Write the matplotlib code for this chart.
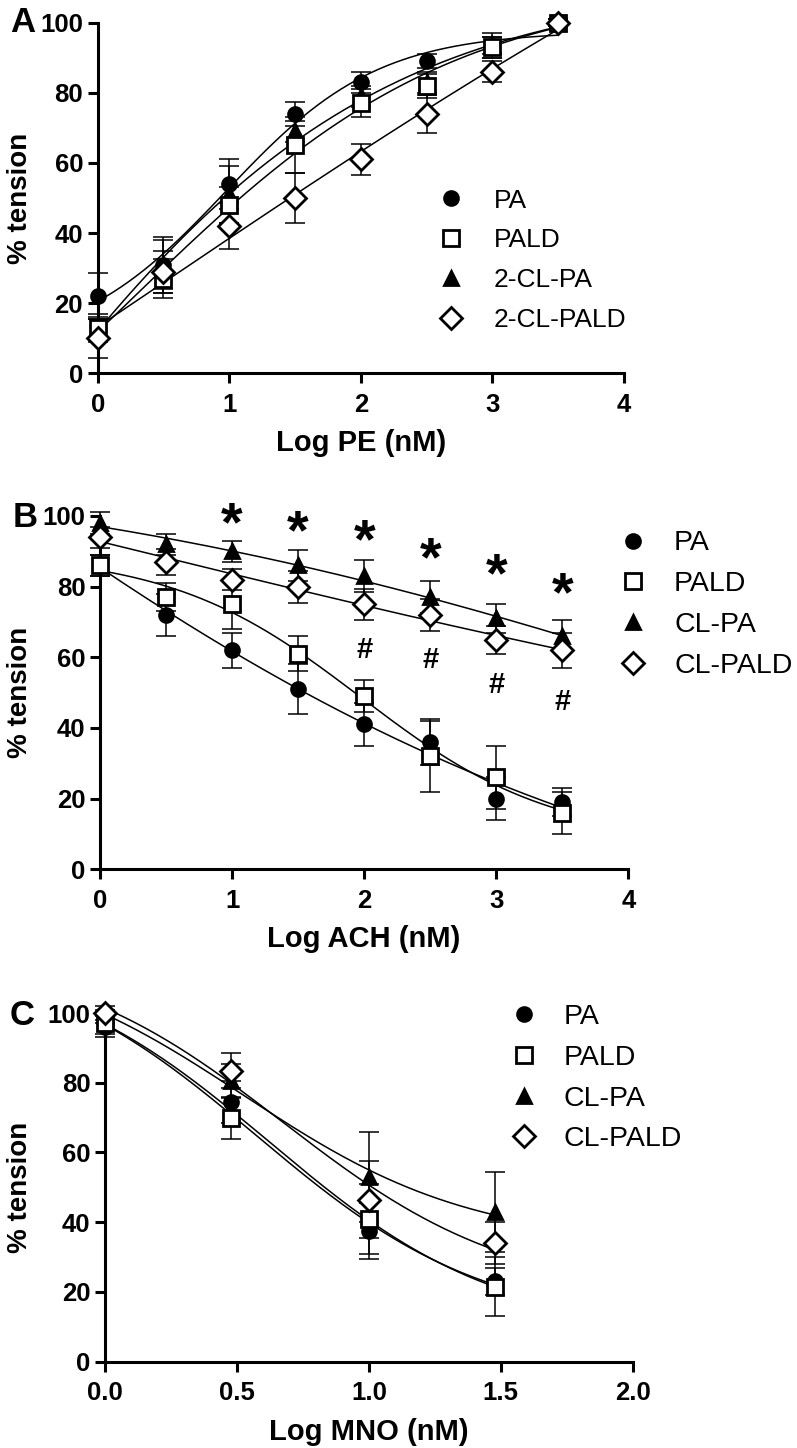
import numpy as np
import matplotlib
matplotlib.use("Agg")
import matplotlib.pyplot as plt

plt.rcParams['font.family'] = ['Liberation Sans', 'DejaVu Sans']

# ---------------- data ----------------
# Panel A: Log PE (nM)
a_x = [0, 0.5, 1, 1.5, 2, 2.5, 3, 3.5]
a_pa = [22, 31, 54, 74, 83, 89, 93, 100]
a_pa_err = [6.5, 7, 7, 3.5, 3, 2, 3, 1]
a_pald = [13, 27, 48, 65, 77, 82, 93, 100]
a_pald_err = [3, 5.5, 5, 8, 4, 3.5, 3, 1]
a_clpa = [13, 31, 51, 69, 79, 83, 94, 100]
a_clpa_err = [4, 8, 8, 3, 3, 3, 3, 1]
a_clpald = [10, 29, 42, 50, 61, 74, 86, 100]
a_clpald_err = [5.5, 6, 6.5, 7, 4.3, 5.5, 3, 1]
a_labels = ["PA", "PALD", "2-CL-PA", "2-CL-PALD"]

# Panel B: Log ACH (nM)
b_x = [0, 0.5, 1, 1.5, 2, 2.5, 3, 3.5]
b_pa = [86, 72, 62, 51, 41, 36, 20, 19]
b_pa_err = [3, 6, 5, 7, 6, 6.5, 6, 4]
b_pald = [86, 77, 75, 61, 49, 32, 26, 16]
b_pald_err = [3, 4, 7, 5, 4.5, 10, 9, 6]
b_clpa = [98, 92, 90, 86, 83, 77, 71, 66]
b_clpa_err = [3, 3, 3, 4.5, 4.5, 4.5, 4, 4.5]
b_clpald = [94, 87, 82, 80, 75, 72, 65, 62]
b_clpald_err = [3, 3.8, 3, 4.5, 4.3, 4.6, 4, 5]
b_labels = ["PA", "PALD", "CL-PA", "CL-PALD"]
b_star_x = [1, 1.5, 2, 2.5, 3, 3.5]
b_star_y = [97.0, 94.7, 92.3, 87.1, 82.8, 77.2]
b_hash_x = [2, 2.5, 3, 3.5]
b_hash_y = [62.0, 59.1, 52.2, 47.3]

# Panel C: Log MNO (nM)
c_x = [0, 0.477, 1, 1.477]
c_pa = [96, 74.5, 37.5, 23]
c_pa_err = [3, 6, 8, 4]
c_pald = [97, 70, 41, 21.5]
c_pald_err = [3, 6, 10, 8.5]
c_clpa = [99, 80.5, 53, 43]
c_clpa_err = [2, 5, 13, 11.5]
c_clpald = [100, 83.5, 46.5, 34]
c_clpald_err = [2, 5, 11, 6]
c_labels = ["PA", "PALD", "CL-PA", "CL-PALD"]

# ---------------- helpers ----------------
W, H = 797, 1448
fig = plt.figure(figsize=(W / 100, H / 100), dpi=100)


def px_rect(l, r, t, b):
    return [l / W, 1 - b / H, (r - l) / W, (b - t) / H]


def make_logistic_fitter(slopes):
    def fit(x, y):
        """Logistic least-squares fit (grid over EC50 & slope, linear top/bottom)."""
        x = np.asarray(x, float)
        y = np.asarray(y, float)
        best = None
        for c in np.linspace(-2, 5, 281):
            for h in slopes:
                s = 1.0 / (1.0 + 10 ** ((c - x) * h))
                A = np.column_stack([1 - s, s])
                coef, *_ = np.linalg.lstsq(A, y, rcond=None)
                r = np.sum((A @ coef - y) ** 2)
                if best is None or r < best[0]:
                    best = (r, c, h, coef)
        _, c, h, coef = best

        def f(xx):
            s = 1.0 / (1.0 + 10 ** ((c - xx) * h))
            return coef[0] * (1 - s) + coef[1] * s
        return f
    return fit


fit_variable = make_logistic_fitter(np.linspace(0.1, 3, 59))
fit_hill1 = make_logistic_fitter([1.0])

styles = [
    dict(marker='o', mfc='black', ms=10),
    dict(marker='s', mfc='white', ms=11),
    dict(marker='^', mfc='black', ms=10.5),
    dict(marker='D', mfc='white', ms=11),
]


def panel(rect, x, series, errs, labels, xlim, xticks, xticklabels, xlabel,
          letter, letter_pos, leg_anchor, leg_fs, leg_pad, leg_space, fitter):
    ax = fig.add_axes(rect)
    for i, (y, e) in enumerate(zip(series, errs)):
        f = fitter(x, y)
        xx = np.linspace(min(x), max(x), 300)
        ax.plot(xx, f(xx), color='black', lw=1.1, zorder=2, clip_on=False)
        ax.errorbar(x, y, yerr=e, fmt='none', ecolor='black', elinewidth=1.1,
                    capsize=7, capthick=1.1, zorder=3, clip_on=False)
        st = styles[i]
        ax.plot(x, y, linestyle='none', marker=st['marker'], ms=st['ms'],
                mfc=st['mfc'], mec='black', mew=2.0, zorder=4 + (i % 2),
                clip_on=False, label=labels[i])
    ax.set_xlim(*xlim)
    ax.set_ylim(0, 100)
    ax.set_xticks(xticks)
    ax.set_xticklabels(xticklabels)
    ax.set_yticks([0, 20, 40, 60, 80, 100])
    for s in ['top', 'right']:
        ax.spines[s].set_visible(False)
    for s in ['left', 'bottom']:
        ax.spines[s].set_linewidth(2.2)
    ax.tick_params(direction='out', length=7.5, width=2.2, labelsize=18.5)
    ax.tick_params(axis='x', pad=6.5)
    ax.tick_params(axis='y', pad=3)
    for lab in ax.get_xticklabels() + ax.get_yticklabels():
        lab.set_fontweight('bold')
    ax.set_xlabel(xlabel, fontsize=21, fontweight='bold', labelpad=9)
    ax.set_ylabel('% tension', fontsize=20, fontweight='bold')
    ax.yaxis.set_label_coords((33 - rect[0] * W) / (rect[2] * W), 0.5)
    fig.text(letter_pos[0] / W, 1 - letter_pos[1] / H, letter, fontsize=25,
             fontweight='bold', ha='left', va='baseline')
    ax.legend(loc='upper left', bbox_to_anchor=(leg_anchor[0] / W, 1 - leg_anchor[1] / H),
              bbox_transform=fig.transFigure, frameon=False, fontsize=leg_fs,
              handlelength=1.0, handletextpad=leg_pad, labelspacing=leg_space,
              borderpad=0, borderaxespad=0, numpoints=1)
    return ax


axA = panel(px_rect(97.7, 624, 22.7, 373.3), a_x,
            [a_pa, a_pald, a_clpa, a_clpald],
            [a_pa_err, a_pald_err, a_clpa_err, a_clpald_err], a_labels,
            (0, 4), [0, 1, 2, 3, 4], ['0', '1', '2', '3', '4'], 'Log PE (nM)',
            'A', (10, 32), (437.8, 188.5), 19, 1.13, 0.6, fit_variable)

axB = panel(px_rect(100, 628.3, 516, 869.3), b_x,
            [b_pa, b_pald, b_clpa, b_clpald],
            [b_pa_err, b_pald_err, b_clpa_err, b_clpald_err], b_labels,
            (0, 4), [0, 1, 2, 3, 4], ['0', '1', '2', '3', '4'], 'Log ACH (nM)',
            'B', (13, 527), (618.8, 530.5), 20.5, 0.94, 0.52, fit_variable)
for sx, sy in zip(b_star_x, b_star_y):
    axB.text(sx, sy, '*', fontsize=40, fontweight='bold', ha='center',
             va='center', clip_on=False)
for hx, hy in zip(b_hash_x, b_hash_y):
    axB.text(hx, hy, '#', fontsize=21, fontweight='bold', ha='center',
             va='center', clip_on=False)

axC = panel(px_rect(105, 632.7, 1013, 1361.7), c_x,
            [c_pa, c_pald, c_clpa, c_clpald],
            [c_pa_err, c_pald_err, c_clpa_err, c_clpald_err], c_labels,
            (0, 2), [0, 0.5, 1.0, 1.5, 2.0], ['0.0', '0.5', '1.0', '1.5', '2.0'],
            'Log MNO (nM)', 'C', (10, 1025), (509.8, 1004), 20.5, 0.9, 0.52, fit_hill1)

fig.savefig('out.png', dpi=100)
